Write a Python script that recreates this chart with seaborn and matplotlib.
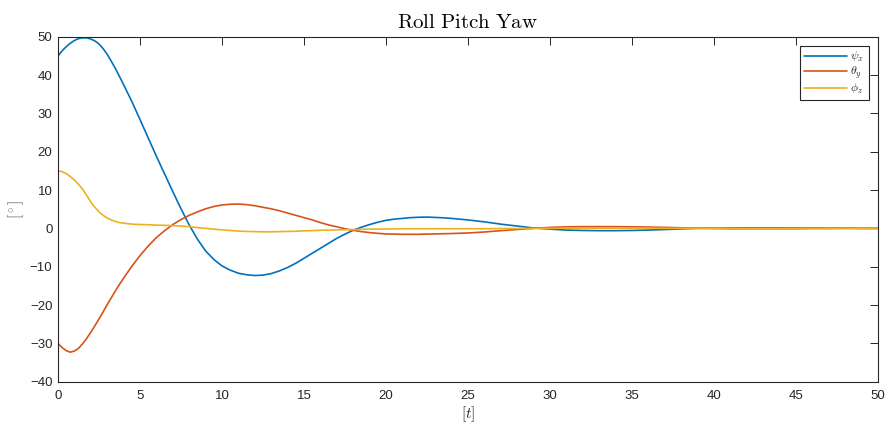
import numpy as np
import pandas as pd
import matplotlib
matplotlib.use("Agg")
import matplotlib.pyplot as plt
import seaborn as sns

# Sample times [t]
t = [0, 0.25, 0.5, 0.75, 1, 1.25, 1.5, 1.75, 2, 2.25, 2.5, 2.75, 3, 3.25,
     3.5, 3.75, 4, 4.5, 5, 5.5, 6, 6.5, 7, 7.5, 8, 8.5,
     9, 9.5, 10, 10.5, 11, 11.5, 12, 12.5, 13, 13.5, 14, 14.5, 15, 15.5, 16,
     16.5, 17, 17.5, 18, 18.5, 19, 19.5, 20, 20.5, 21, 21.5, 22, 22.5, 23,
     23.5, 24, 25, 26, 27, 28, 29, 30, 31, 32, 33, 34, 35, 36, 37, 38, 39,
     40, 41, 42, 43, 44, 45, 46, 47, 48, 49, 50]

# Roll angle psi_x [deg]
psi_x = [45.0, 46.3, 47.4, 48.3, 49.0, 49.5, 49.7, 49.7, 49.4, 48.9, 48.1,
         46.9, 45.4, 43.6, 41.7, 39.6, 37.5, 33.1, 28.4,
         23.6, 18.8, 14.2, 9.6, 5.1, 0.9, -2.8, -5.9, -8.1, -9.8, -10.9,
         -11.7, -12.1, -12.3, -12.2, -11.8, -11.1, -10.2, -9.1, -7.8, -6.5,
         -5.2, -3.9, -2.6, -1.5, -0.5, 0.3, 1.0, 1.6, 2.1, 2.4, 2.6, 2.8, 2.9,
         2.95, 2.85, 2.75, 2.6,
         2.2, 1.7, 1.1, 0.6, 0.1, -0.2, -0.45, -0.55, -0.6, -0.6, -0.55,
         -0.45, -0.3, -0.15, 0.0, 0.05, 0.1, 0.15, 0.15, 0.15, 0.1, 0.1,
         0.05, 0.05, 0.0, 0.0]

# Pitch angle theta_y [deg]
theta_y = [-30.0, -31.1, -31.9, -32.3, -32.0, -31.3, -30.1, -28.7, -27.1,
           -25.4, -23.6, -21.8, -19.9, -18.1, -16.3, -14.6, -13.0,
           -9.9, -7.1, -4.6, -2.4, -0.6, 1.0, 2.3, 3.4, 4.3, 5.1, 5.7, 6.1,
           6.3, 6.35, 6.2, 5.9, 5.5, 5.1, 4.6, 4.0, 3.4, 2.8, 2.2, 1.5, 0.9,
           0.4, -0.1, -0.5, -0.85, -1.1, -1.3, -1.45, -1.5, -1.55, -1.55,
           -1.55, -1.5, -1.45, -1.4, -1.35,
           -1.2, -0.95, -0.6, -0.3, 0.0, 0.25, 0.4, 0.45, 0.45, 0.45, 0.4,
           0.35, 0.25, 0.15, 0.05, -0.05, -0.1, -0.1, -0.1, -0.1, -0.1,
           -0.05, -0.05, 0.0, 0.0, 0.0]

# Yaw angle phi_z [deg]
phi_z = [15.0, 14.8, 14.3, 13.5, 12.6, 11.5, 10.2, 8.6, 6.9, 5.5, 4.3, 3.4,
         2.7, 2.2, 1.8, 1.5, 1.35, 1.1, 1.0, 0.95,
         0.85, 0.8, 0.7, 0.6, 0.45, 0.2, 0.0, -0.2, -0.4, -0.55, -0.7, -0.8,
         -0.85, -0.9, -0.9, -0.85, -0.8, -0.75, -0.65, -0.6, -0.5, -0.45,
         -0.4, -0.35, -0.3, -0.25, -0.2, -0.2, -0.15, -0.15, -0.1, -0.1,
         -0.1, -0.1, -0.1, -0.1, -0.1,
         -0.1, -0.1, -0.05, -0.05, 0.0, 0.0, 0.05, 0.05, 0.05, 0.05, 0.05,
         0.05, 0.0, 0.0, 0.0, 0.0, 0.0, 0.0, 0.0, 0.0, 0.0, 0.0, 0.0, 0.0,
         0.0, 0.0]

series_names = [r"$\psi_x$", r"$\theta_y$", r"$\phi_z$"]
series_colors = ["#0072BD", "#D95319", "#EDB120"]

x_ticks = [0, 5, 10, 15, 20, 25, 30, 35, 40, 45, 50]
y_ticks = [-40, -30, -20, -10, 0, 10, 20, 30, 40, 50]

df = pd.concat([
    pd.DataFrame({"t": t, "angle": vals, "series": name})
    for name, vals in zip(series_names, [psi_x, theta_y, phi_z])
], ignore_index=True)

sns.set_style("white")
plt.rcParams["font.family"] = ["Liberation Sans", "DejaVu Sans"]
plt.rcParams["mathtext.fontset"] = "cm"

axis_color = "#262626"

fig = plt.figure(figsize=(8.89, 4.28), dpi=100)
ax = fig.add_axes([58 / 889, 1 - 381.7 / 428, 820 / 889, 345 / 428])

sns.lineplot(data=df, x="t", y="angle", hue="series",
             palette=series_colors, hue_order=series_names,
             estimator=None, sort=False, linewidth=1.2, ax=ax)

ax.set_xlim(0, 50)
ax.set_ylim(-40, 50)
ax.set_xticks(x_ticks)
ax.set_yticks(y_ticks)

for side in ["left", "right", "top", "bottom"]:
    ax.spines[side].set_visible(True)
    ax.spines[side].set_color(axis_color)
    ax.spines[side].set_linewidth(0.8)

ax.tick_params(axis="both", which="major", direction="in", length=5.8,
               width=0.7, color=axis_color, labelcolor=axis_color,
               labelsize=9.5, top=True, right=True)
ax.tick_params(axis="x", pad=6)
ax.tick_params(axis="y", pad=4)

ax.set_title(r"$\mathrm{Roll\ Pitch\ Yaw}$", fontsize=15, pad=6,
             color="black")
ax.set_xlabel(r"$[t]$", fontsize=11, color=axis_color, labelpad=2)
ax.set_ylabel(r"$[^\circ]$", fontsize=11, color="#555555", labelpad=3)

leg = ax.legend(loc="upper right", fontsize=8.5, frameon=True, fancybox=False,
                edgecolor=axis_color, framealpha=1.0, handlelength=3.6,
                handletextpad=0.3, labelspacing=0.05, borderpad=0.35,
                borderaxespad=0.8)
leg.get_frame().set_linewidth(0.8)

fig.savefig("out.png", dpi=100)
